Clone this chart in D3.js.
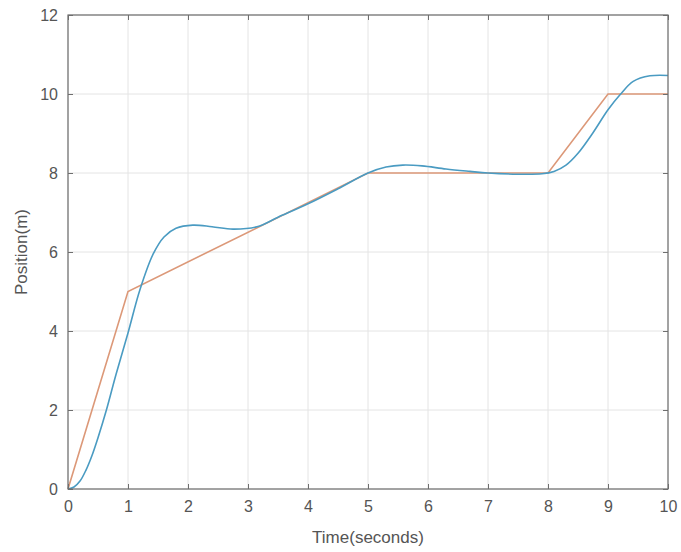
<!DOCTYPE html>
<html>
<head>
<meta charset="utf-8">
<script src="https://cdn.jsdelivr.net/npm/d3@7"></script>
<style>
  body { margin: 0; background: #fff; }
  text { font-family: "Liberation Sans", Arial, sans-serif; }
</style>
</head>
<body>
<svg id="chart"></svg>
<script>
// reference trajectory (piecewise linear)
let refTime = [0, 1, 5, 8, 9, 10]
let refPos = [0, 5, 8, 8, 10, 10]

let actTime = [0, 0.1, 0.2, 0.3, 0.4, 0.5, 0.64, 0.8, 1.0, 1.2, 1.42, 1.6, 1.8, 2.08, 2.4, 2.75, 3.15, 3.5, 4, 4.5, 5, 5.3, 5.58, 5.9, 6.3, 6.7, 7, 7.5, 7.9, 8.1, 8.3, 8.5, 8.75, 9.0, 9.2, 9.42, 9.7, 10]
let actPos = [0, 0.05, 0.2, 0.48, 0.85, 1.3, 2.0, 2.9, 3.95, 5.05, 5.95, 6.38, 6.6, 6.68, 6.64, 6.58, 6.64, 6.88, 7.22, 7.6, 8.0, 8.15, 8.2, 8.18, 8.1, 8.04, 8.0, 7.97, 7.98, 8.04, 8.2, 8.5, 9.02, 9.6, 9.98, 10.32, 10.46, 10.47]

let xTicks = [0, 1, 2, 3, 4, 5, 6, 7, 8, 9, 10]
let yTicks = [0, 2, 4, 6, 8, 10, 12]

let opts = {
    width: 681,
    height: 552,
    left: 68,
    right: 668,
    top: 15,
    bottom: 489,
}

let svg = d3.select('#chart')
    .attr('width', opts.width)
    .attr('height', opts.height)

let x = d3.scaleLinear().domain([0, 10]).range([opts.left, opts.right])
let y = d3.scaleLinear().domain([0, 12]).range([opts.bottom, opts.top])

// grid
svg.append('g').selectAll('line').data(xTicks).enter().append('line')
    .attr('x1', d => x(d)).attr('x2', d => x(d))
    .attr('y1', opts.top).attr('y2', opts.bottom)
    .attr('stroke', '#e4e4e4').attr('stroke-width', 1)
svg.append('g').selectAll('line').data(yTicks).enter().append('line')
    .attr('x1', opts.left).attr('x2', opts.right)
    .attr('y1', d => y(d)).attr('y2', d => y(d))
    .attr('stroke', '#e4e4e4').attr('stroke-width', 1)

// lines
let refData = refTime.map((t, i) => [t, refPos[i]])
let actData = actTime.map((t, i) => [t, actPos[i]])

svg.append('path')
    .datum(refData)
    .attr('fill', 'none')
    .attr('stroke', '#dc9878')
    .attr('stroke-width', 1.6)
    .attr('d', d3.line().x(d => x(d[0])).y(d => y(d[1])))

svg.append('path')
    .datum(actData)
    .attr('fill', 'none')
    .attr('stroke', '#4a9bc2')
    .attr('stroke-width', 1.6)
    .attr('d', d3.line().curve(d3.curveCatmullRom.alpha(0.5)).x(d => x(d[0])).y(d => y(d[1])))

// axes, ticks inward on all four sides
let axisColor = '#6e6e6e'
function styleAxis(g) {
    g.select('.domain').remove()
    g.selectAll('.tick line').attr('stroke', axisColor)
    g.selectAll('.tick text')
        .attr('fill', '#555')
        .style('font-size', '16px')
        .style('font-family', '"Liberation Sans", Arial, sans-serif')
}

svg.append('g')
    .attr('transform', 'translate(0,' + opts.bottom + ')')
    .call(d3.axisBottom(x).tickValues(xTicks).tickSize(-5).tickPadding(12))
    .call(styleAxis)
svg.append('g')
    .attr('transform', 'translate(0,' + opts.top + ')')
    .call(d3.axisTop(x).tickValues(xTicks).tickSize(-5).tickFormat(''))
    .call(styleAxis)
svg.append('g')
    .attr('transform', 'translate(' + opts.left + ',0)')
    .call(d3.axisLeft(y).tickValues(yTicks).tickSize(-5).tickPadding(10))
    .call(styleAxis)
svg.append('g')
    .attr('transform', 'translate(' + opts.right + ',0)')
    .call(d3.axisRight(y).tickValues(yTicks).tickSize(-5).tickFormat(''))
    .call(styleAxis)

svg.append('rect')
    .attr('x', opts.left).attr('y', opts.top)
    .attr('width', opts.right - opts.left)
    .attr('height', opts.bottom - opts.top)
    .attr('fill', 'none')
    .attr('stroke', axisColor)
    .attr('stroke-width', 1.2)

// labels
svg.append('text')
    .attr('x', (opts.left + opts.right) / 2)
    .attr('y', 543)
    .attr('text-anchor', 'middle')
    .attr('fill', '#555')
    .style('font-size', '17px')
    .text('Time(seconds)')

svg.append('text')
    .attr('transform', 'translate(27,' + (opts.top + opts.bottom) / 2 + ') rotate(-90)')
    .attr('text-anchor', 'middle')
    .attr('fill', '#555')
    .style('font-size', '17px')
    .text('Position(m)')
</script>
</body>
</html>
